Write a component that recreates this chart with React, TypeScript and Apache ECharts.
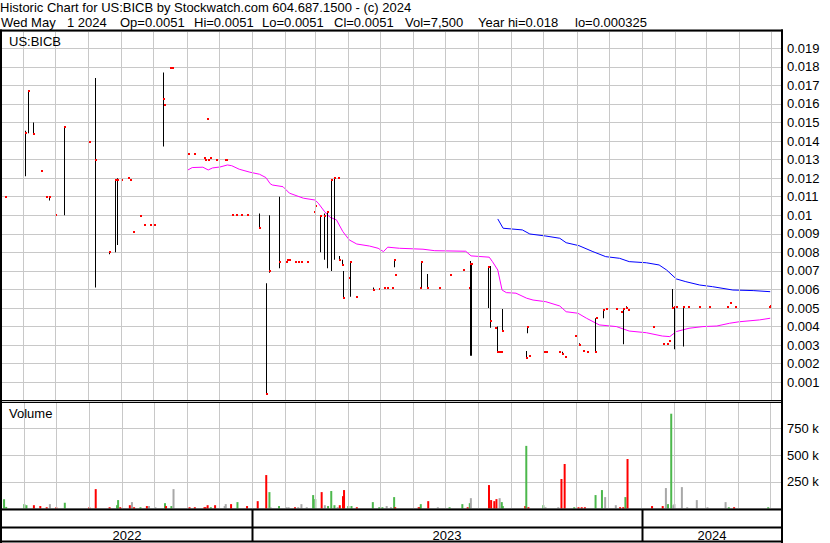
import React, { useEffect, useRef } from 'react';
import * as echarts from 'echarts';

const HEADER_LINE_1 = 'Historic Chart for US:BICB by Stockwatch.com 604.687.1500 - (c) 2024';
const HEADER_LINE_2 = ['Wed May', '1 2024', 'Op=0.0051', 'Hi=0.0051', 'Lo=0.0051', 'Cl=0.0051', 'Vol=7,500', 'Year hi=0.018', 'lo=0.000325'];
const SYMBOL = 'US:BICB';
const VOLUME_TITLE = 'Volume';
const YEARS = ['2022', '2023', '2024'];
const YEAR_STARTS = ['2023-01-01', '2024-01-01'];
const X_START = '2022-05-12';
const X_END = '2024-05-11';

// [date, high, low, close]
const priceBars: [string, number, number, number][] = [
  ['2022-05-16', 0.0110, 0.0110, 0.0110],
  ['2022-06-03', 0.01455, 0.0121, 0.01445],
  ['2022-06-06', 0.0167, 0.01442, 0.0167],
  ['2022-06-11', 0.0150, 0.01442, 0.0144],
  ['2022-06-18', 0.0124, 0.0124, 0.0124],
  ['2022-06-23', 0.0110, 0.0110, 0.0110],
  ['2022-06-26', 0.0110, 0.0108, 0.0110],
  ['2022-07-02', 0.01055, 0.0100, 0.0100],
  ['2022-07-10', 0.01475, 0.0100, 0.01475],
  ['2022-08-02', 0.01397, 0.01397, 0.01397],
  ['2022-08-08', 0.0174, 0.0061, 0.01298],
  ['2022-08-21', 0.00805, 0.0079, 0.0080],
  ['2022-08-27', 0.0119, 0.0080, 0.0119],
  ['2022-08-29', 0.0120, 0.0084, 0.0119],
  ['2022-09-01', 0.0119, 0.0119, 0.0119],
  ['2022-09-08', 0.0120, 0.0120, 0.0120],
  ['2022-09-10', 0.0119, 0.0119, 0.0119],
  ['2022-09-13', 0.0091, 0.0091, 0.0091],
  ['2022-09-19', 0.00995, 0.00995, 0.00995],
  ['2022-09-23', 0.0095, 0.0095, 0.0095],
  ['2022-09-28', 0.0095, 0.0095, 0.0095],
  ['2022-10-02', 0.0095, 0.0095, 0.0095],
  ['2022-10-11', 0.0177, 0.0137, 0.01627],
  ['2022-10-12', 0.01595, 0.01595, 0.01595],
  ['2022-10-17', 0.01796, 0.01796, 0.01796],
  ['2022-10-19', 0.01796, 0.01796, 0.01796],
  ['2022-11-03', 0.0133, 0.0133, 0.0133],
  ['2022-11-09', 0.0133, 0.0133, 0.0133],
  ['2022-11-18', 0.0131, 0.0131, 0.0131],
  ['2022-11-19', 0.0130, 0.0130, 0.0130],
  ['2022-11-21', 0.0152, 0.0152, 0.0152],
  ['2022-11-22', 0.0130, 0.0130, 0.0130],
  ['2022-11-24', 0.0131, 0.0131, 0.0131],
  ['2022-11-29', 0.0130, 0.0130, 0.0130],
  ['2022-12-08', 0.0130, 0.0130, 0.0130],
  ['2022-12-09', 0.0130, 0.0130, 0.0130],
  ['2022-12-14', 0.0100, 0.0100, 0.0100],
  ['2022-12-18', 0.0100, 0.0100, 0.0100],
  ['2022-12-23', 0.0100, 0.0100, 0.0100],
  ['2022-12-28', 0.0100, 0.0100, 0.0100],
  ['2023-01-08', 0.0101, 0.0093, 0.0093],
  ['2023-01-15', 0.00633, 0.000325, 0.00038],
  ['2023-01-18', 0.0100, 0.0069, 0.0070],
  ['2023-01-27', 0.0110, 0.00714, 0.0075],
  ['2023-02-03', 0.0075, 0.0075, 0.0075],
  ['2023-02-04', 0.0076, 0.0076, 0.0076],
  ['2023-02-06', 0.0076, 0.0076, 0.0076],
  ['2023-02-11', 0.0075, 0.0075, 0.0075],
  ['2023-02-14', 0.0075, 0.0075, 0.0075],
  ['2023-02-17', 0.0075, 0.0075, 0.0075],
  ['2023-02-22', 0.0075, 0.0075, 0.0075],
  ['2023-03-01', 0.0102, 0.0102, 0.0102],
  ['2023-03-02', 0.01055, 0.0082, 0.0105],
  ['2023-03-07', 0.0100, 0.0080, 0.00995],
  ['2023-03-10', 0.0101, 0.0076, 0.00995],
  ['2023-03-13', 0.01014, 0.00714, 0.0102],
  ['2023-03-17', 0.01194, 0.0070, 0.0119],
  ['2023-03-20', 0.0120, 0.0076, 0.0120],
  ['2023-03-23', 0.0120, 0.0120, 0.0120],
  ['2023-03-24', 0.0078, 0.0076, 0.0076],
  ['2023-03-27', 0.0076, 0.00732, 0.00732],
  ['2023-03-28', 0.0070, 0.00556, 0.00556],
  ['2023-04-02', 0.0075, 0.0066, 0.0066],
  ['2023-04-04', 0.0075, 0.00561, 0.0075],
  ['2023-04-09', 0.00561, 0.00561, 0.00561],
  ['2023-04-25', 0.0061, 0.00597, 0.00597],
  ['2023-05-01', 0.00604, 0.00604, 0.00604],
  ['2023-05-05', 0.0061, 0.0061, 0.0061],
  ['2023-05-08', 0.0061, 0.0061, 0.0061],
  ['2023-05-13', 0.0061, 0.0061, 0.0061],
  ['2023-05-15', 0.00764, 0.0072, 0.0076],
  ['2023-05-16', 0.00678, 0.00678, 0.00678],
  ['2023-06-08', 0.0061, 0.0061, 0.0061],
  ['2023-06-09', 0.00754, 0.0061, 0.0075],
  ['2023-06-15', 0.00684, 0.0061, 0.0061],
  ['2023-06-26', 0.0061, 0.0061, 0.0061],
  ['2023-07-06', 0.00678, 0.00678, 0.00678],
  ['2023-07-18', 0.00705, 0.00705, 0.00705],
  ['2023-07-24', 0.0061, 0.0061, 0.0061],
  ['2023-07-25', 0.00754, 0.00243, 0.00737],
  ['2023-07-26', 0.0074, 0.00243, 0.00737],
  ['2023-08-11', 0.00727, 0.0050, 0.00723],
  ['2023-08-13', 0.00727, 0.00394, 0.0043],
  ['2023-08-17', 0.00394, 0.00394, 0.00394],
  ['2023-08-19', 0.0040, 0.00265, 0.00265],
  ['2023-08-21', 0.00265, 0.00265, 0.00265],
  ['2023-08-23', 0.00265, 0.00265, 0.00265],
  ['2023-08-24', 0.00495, 0.00376, 0.00376],
  ['2023-09-15', 0.00268, 0.00232, 0.00232],
  ['2023-09-16', 0.0040, 0.00364, 0.0040],
  ['2023-09-18', 0.00243, 0.00243, 0.00243],
  ['2023-10-02', 0.00265, 0.00265, 0.00265],
  ['2023-10-04', 0.00265, 0.00265, 0.00265],
  ['2023-10-16', 0.00265, 0.00265, 0.00265],
  ['2023-10-19', 0.00265, 0.0025, 0.00252],
  ['2023-10-22', 0.00238, 0.00238, 0.00238],
  ['2023-10-31', 0.00351, 0.00351, 0.00351],
  ['2023-11-04', 0.0031, 0.00301, 0.00301],
  ['2023-11-08', 0.0027, 0.0027, 0.0027],
  ['2023-11-11', 0.00265, 0.00265, 0.00265],
  ['2023-11-19', 0.00445, 0.00265, 0.00265],
  ['2023-11-20', 0.00445, 0.00445, 0.00445],
  ['2023-11-26', 0.0049, 0.00445, 0.0049],
  ['2023-11-29', 0.00493, 0.00493, 0.00493],
  ['2023-12-09', 0.00493, 0.00493, 0.00493],
  ['2023-12-13', 0.0048, 0.0048, 0.0048],
  ['2023-12-15', 0.00499, 0.00305, 0.00493],
  ['2023-12-18', 0.0051, 0.00499, 0.00499],
  ['2023-12-20', 0.0049, 0.0049, 0.0049],
  ['2024-01-12', 0.0040, 0.0040, 0.0040],
  ['2024-01-22', 0.00305, 0.00305, 0.00305],
  ['2024-01-25', 0.00305, 0.00305, 0.00305],
  ['2024-01-27', 0.00324, 0.00324, 0.00324],
  ['2024-01-30', 0.00603, 0.00499, 0.0050],
  ['2024-02-01', 0.00504, 0.00278, 0.00504],
  ['2024-02-02', 0.00504, 0.00278, 0.00504],
  ['2024-02-03', 0.00504, 0.00504, 0.00504],
  ['2024-02-09', 0.00504, 0.00292, 0.00504],
  ['2024-02-14', 0.00504, 0.00504, 0.00504],
  ['2024-02-24', 0.00504, 0.00504, 0.00504],
  ['2024-03-05', 0.00504, 0.00504, 0.00504],
  ['2024-03-21', 0.00504, 0.00504, 0.00504],
  ['2024-03-24', 0.00529, 0.00529, 0.00529],
  ['2024-03-29', 0.00504, 0.00504, 0.00504],
  ['2024-04-30', 0.00504, 0.00504, 0.00504],
  ['2024-05-01', 0.0051, 0.0051, 0.0051],
];

// short moving average (magenta)
const maShort: [string, number][] = [
  ['2022-11-02', 0.01244], ['2022-11-06', 0.01257], ['2022-11-16', 0.01259], ['2022-11-21', 0.01244],
  ['2022-11-25', 0.01255], ['2022-12-02', 0.0126], ['2022-12-09', 0.01271], ['2022-12-13', 0.01267],
  ['2022-12-20', 0.01248], ['2022-12-30', 0.01232], ['2023-01-08', 0.01221], ['2023-01-14', 0.01203],
  ['2023-01-18', 0.0117], ['2023-01-20', 0.01163], ['2023-01-30', 0.01154], ['2023-02-05', 0.01119],
  ['2023-02-18', 0.01092], ['2023-03-01', 0.01082], ['2023-03-04', 0.01065], ['2023-03-10', 0.01019],
  ['2023-03-15', 0.00989], ['2023-03-21', 0.00975], ['2023-03-27', 0.00912], ['2023-04-02', 0.00867],
  ['2023-04-09', 0.00845], ['2023-04-21', 0.00834], ['2023-04-29', 0.00822], ['2023-05-04', 0.00804],
  ['2023-05-08', 0.00828], ['2023-05-19', 0.00822], ['2023-06-10', 0.00817], ['2023-06-21', 0.00809],
  ['2023-07-20', 0.00806], ['2023-07-25', 0.00781], ['2023-08-11', 0.00774], ['2023-08-14', 0.0075],
  ['2023-08-19', 0.00705], ['2023-08-23', 0.00597], ['2023-08-27', 0.00583], ['2023-09-05', 0.0058],
  ['2023-09-15', 0.00553], ['2023-09-21', 0.00543], ['2023-10-03', 0.00534], ['2023-10-16', 0.00511],
  ['2023-10-22', 0.0048], ['2023-11-02', 0.00472], ['2023-11-10', 0.00445], ['2023-11-22', 0.00409],
  ['2023-12-08', 0.004], ['2023-12-20', 0.00376], ['2024-01-05', 0.00367], ['2024-01-20', 0.00349],
  ['2024-01-27', 0.00346], ['2024-02-02', 0.00373], ['2024-02-14', 0.00391], ['2024-02-27', 0.004],
  ['2024-03-11', 0.00403], ['2024-03-23', 0.00418], ['2024-04-01', 0.00426], ['2024-04-20', 0.00436],
  ['2024-04-30', 0.00445],
];

// long moving average (blue)
const maLong: [string, number][] = [
  ['2023-08-19', 0.0098], ['2023-08-24', 0.0093], ['2023-09-11', 0.00921], ['2023-09-18', 0.00899],
  ['2023-10-03', 0.00888], ['2023-10-16', 0.00876], ['2023-10-22', 0.00852], ['2023-11-03', 0.00836],
  ['2023-11-16', 0.00804], ['2023-11-28', 0.00777], ['2023-12-11', 0.00768], ['2023-12-20', 0.0075],
  ['2024-01-05', 0.00744], ['2024-01-17', 0.00732], ['2024-01-24', 0.00705], ['2024-02-02', 0.00657],
  ['2024-02-11', 0.00642], ['2024-02-24', 0.00624], ['2024-03-07', 0.00615], ['2024-03-26', 0.00597],
  ['2024-04-14', 0.00594], ['2024-04-30', 0.00588],
];

// [date, volume, direction u=up d=down f=flat]
const volumes: [string, number, string][] = [
  ['2022-05-13', 88000, 'u'], ['2022-05-15', 15000, 'u'], ['2022-06-01', 41000, 'u'], ['2022-06-03', 31000, 'u'],
  ['2022-06-10', 31000, 'd'], ['2022-06-16', 23000, 'd'], ['2022-06-22', 12000, 'd'], ['2022-06-25', 41000, 'f'],
  ['2022-07-01', 12000, 'd'], ['2022-07-09', 53000, 'u'], ['2022-08-01', 12000, 'd'], ['2022-08-07', 182000, 'd'],
  ['2022-08-20', 12000, 'd'], ['2022-08-27', 31000, 'u'], ['2022-08-28', 79000, 'u'], ['2022-08-30', 12000, 'd'],
  ['2022-09-08', 31000, 'd'], ['2022-09-10', 60000, 'f'], ['2022-09-12', 12000, 'd'], ['2022-09-18', 12000, 'u'],
  ['2022-09-24', 23000, 'd'], ['2022-09-26', 23000, 'f'], ['2022-10-02', 12000, 'f'], ['2022-10-11', 50000, 'u'],
  ['2022-10-12', 23000, 'd'], ['2022-10-17', 23000, 'u'], ['2022-10-19', 182000, 'f'], ['2022-11-03', 12000, 'd'],
  ['2022-11-08', 12000, 'd'], ['2022-11-17', 12000, 'd'], ['2022-11-18', 12000, 'd'], ['2022-11-20', 31000, 'd'],
  ['2022-11-23', 12000, 'u'], ['2022-11-27', 31000, 'd'], ['2022-12-06', 23000, 'f'], ['2022-12-07', 41000, 'f'],
  ['2022-12-12', 41000, 'd'], ['2022-12-18', 60000, 'u'], ['2022-12-27', 23000, 'd'], ['2023-01-06', 69000, 'd'],
  ['2023-01-14', 314000, 'd'], ['2023-01-17', 154000, 'u'], ['2023-01-18', 12000, 'f'], ['2023-01-26', 23000, 'u'],
  ['2023-02-02', 12000, 'f'], ['2023-02-04', 12000, 'f'], ['2023-02-10', 12000, 'd'], ['2023-02-13', 12000, 'f'],
  ['2023-02-16', 41000, 'f'], ['2023-02-21', 12000, 'f'], ['2023-02-27', 126000, 'u'], ['2023-03-01', 88000, 'u'],
  ['2023-03-07', 154000, 'd'], ['2023-03-10', 31000, 'f'], ['2023-03-13', 23000, 'u'], ['2023-03-16', 164000, 'u'],
  ['2023-03-19', 31000, 'u'], ['2023-03-22', 12000, 'f'], ['2023-03-24', 31000, 'd'], ['2023-03-27', 116000, 'd'],
  ['2023-03-28', 173000, 'd'], ['2023-04-01', 23000, 'u'], ['2023-04-04', 23000, 'u'], ['2023-04-09', 12000, 'd'],
  ['2023-04-24', 60000, 'u'], ['2023-04-30', 12000, 'u'], ['2023-05-03', 12000, 'u'], ['2023-05-07', 23000, 'f'],
  ['2023-05-11', 12000, 'f'], ['2023-05-14', 107000, 'u'], ['2023-05-15', 12000, 'd'], ['2023-06-06', 12000, 'd'],
  ['2023-06-07', 12000, 'd'], ['2023-06-08', 41000, 'u'], ['2023-06-15', 69000, 'd'], ['2023-06-24', 12000, 'f'],
  ['2023-07-05', 12000, 'u'], ['2023-07-17', 41000, 'u'], ['2023-07-22', 12000, 'd'], ['2023-07-24', 50000, 'u'],
  ['2023-07-25', 97000, 'f'], ['2023-08-11', 220000, 'd'], ['2023-08-13', 79000, 'd'], ['2023-08-16', 69000, 'd'],
  ['2023-08-18', 88000, 'd'], ['2023-08-21', 97000, 'f'], ['2023-08-23', 60000, 'u'], ['2023-08-24', 23000, 'u'],
  ['2023-09-14', 23000, 'd'], ['2023-09-15', 588000, 'u'], ['2023-09-17', 12000, 'd'], ['2023-10-01', 31000, 'u'],
  ['2023-10-03', 12000, 'f'], ['2023-10-15', 12000, 'f'], ['2023-10-18', 277000, 'd'], ['2023-10-21', 418000, 'd'],
  ['2023-10-30', 12000, 'u'], ['2023-11-03', 12000, 'd'], ['2023-11-06', 12000, 'd'], ['2023-11-09', 12000, 'd'],
  ['2023-11-19', 126000, 'u'], ['2023-11-25', 173000, 'u'], ['2023-11-28', 107000, 'f'], ['2023-12-08', 31000, 'f'],
  ['2023-12-12', 12000, 'd'], ['2023-12-15', 12000, 'd'], ['2023-12-17', 107000, 'u'], ['2023-12-19', 465000, 'd'],
  ['2024-01-11', 23000, 'd'], ['2024-01-21', 23000, 'd'], ['2024-01-24', 192000, 'f'], ['2024-01-26', 41000, 'u'],
  ['2024-01-29', 890000, 'u'], ['2024-01-31', 31000, 'f'], ['2024-02-01', 41000, 'f'], ['2024-02-08', 201000, 'f'],
  ['2024-02-13', 12000, 'f'], ['2024-02-22', 79000, 'f'], ['2024-03-03', 12000, 'f'], ['2024-03-20', 60000, 'f'],
  ['2024-03-23', 12000, 'u'], ['2024-03-28', 12000, 'd'], ['2024-04-29', 12000, 'u'],
];

const toTs = (s: string) => {
  const [y, m, d] = s.split('-').map(Number);
  return new Date(y, m - 1, d).getTime();
};

export default function App() {
  const ref = useRef<HTMLDivElement>(null);

  useEffect(() => {
    const el = ref.current;
    if (!el) return;
    const chart = echarts.init(el, null, { renderer: 'svg' });
    const FONT = 'Arial, "Liberation Sans", sans-serif';
    const GRID_COLOR = '#c8c8c8';
    const dirColor: Record<string, string> = { u: '#4cb84c', d: '#ff0000', f: '#a8a8a8' };

    const monthStarts: number[] = [];
    for (let y = 2022; y <= 2024; y++) {
      for (let m = 1; m <= 12; m++) {
        const s = `${y}-${String(m).padStart(2, '0')}-01`;
        if (s > X_START && s < X_END) monthStarts.push(toTs(s));
      }
    }
    const monthMarkLine = {
      silent: true,
      symbol: ['none', 'none'],
      label: { show: false },
      emphasis: { disabled: true },
      lineStyle: { color: GRID_COLOR, width: 1, type: 'solid' },
      data: monthStarts.map((t) => ({ xAxis: t })),
    };

    const xAxisBase = {
      type: 'time',
      min: toTs(X_START),
      max: toTs(X_END),
      axisLabel: { show: false },
      axisLine: { show: false },
      axisTick: { show: false },
      splitLine: { show: false },
    };

    chart.setOption({
      animation: false,
      backgroundColor: '#ffffff',
      grid: [
        { left: 2, right: 48, top: 31, height: 369.8 },
        { left: 2, right: 48, top: 402, height: 106.5 },
      ],
      xAxis: [
        { ...xAxisBase, gridIndex: 0 },
        { ...xAxisBase, gridIndex: 1 },
      ],
      yAxis: [
        {
          gridIndex: 0,
          type: 'value',
          position: 'right',
          min: 0,
          max: 0.01993,
          interval: 0.001,
          axisLine: { show: false },
          axisTick: { show: false },
          axisLabel: {
            margin: 5,
            color: '#000',
            fontSize: 13,
            fontFamily: FONT,
            formatter: (v: number) => (v <= 0 || v > 0.0195 ? '' : String(+v.toFixed(3))),
          },
          splitLine: { lineStyle: { color: GRID_COLOR, width: 1 } },
        },
        {
          gridIndex: 1,
          type: 'value',
          position: 'right',
          min: 0,
          max: 1000000,
          interval: 250000,
          axisLine: { show: false },
          axisTick: { show: false },
          axisLabel: {
            margin: 5,
            color: '#000',
            fontSize: 13,
            fontFamily: FONT,
            formatter: (v: number) => (v <= 0 || v >= 1000000 ? '' : `${v / 1000} k`),
          },
          splitLine: { lineStyle: { color: GRID_COLOR, width: 1 } },
        },
      ],
      series: [
        { type: 'line', xAxisIndex: 0, yAxisIndex: 0, data: [], z: 1, markLine: monthMarkLine },
        { type: 'line', xAxisIndex: 1, yAxisIndex: 1, data: [], z: 1, markLine: monthMarkLine },
        {
          type: 'line', xAxisIndex: 0, yAxisIndex: 0, data: maShort, symbol: 'none', z: 3,
          lineStyle: { color: '#ff00ff', width: 1 }, itemStyle: { color: '#ff00ff' },
        },
        {
          type: 'line', xAxisIndex: 0, yAxisIndex: 0, data: maLong, symbol: 'none', z: 3,
          lineStyle: { color: '#0000ff', width: 1 }, itemStyle: { color: '#0000ff' },
        },
        {
          type: 'custom', xAxisIndex: 0, yAxisIndex: 0, z: 4,
          data: priceBars,
          encode: { x: 0, y: [1, 2, 3] },
          renderItem: (params: any, api: any) => {
            const t = api.value(0);
            const hi = api.coord([t, api.value(1)]);
            const lo = api.coord([t, api.value(2)]);
            const cl = api.coord([t, api.value(3)]);
            const x = Math.round(hi[0]);
            const children: any[] = [];
            if (lo[1] - hi[1] >= 1) {
              children.push({
                type: 'rect',
                shape: { x: x - 1, y: hi[1], width: 1, height: lo[1] - hi[1] },
                style: { fill: '#000000' },
              });
            }
            children.push({
              type: 'rect',
              shape: { x: x - 1, y: Math.round(cl[1]) - 1, width: 2, height: 2 },
              style: { fill: '#ff0000' },
            });
            return { type: 'group', children };
          },
        },
        {
          type: 'bar', xAxisIndex: 1, yAxisIndex: 1, barWidth: 2, z: 3,
          data: volumes.map(([d, v, dir]) => ({ value: [d, v], itemStyle: { color: dirColor[dir] } })),
        },
      ],
    });

    const px = (s: string) => (chart.convertToPixel({ gridIndex: 0 }, [toTs(s), 0]) as number[])[0];
    const bounds = [2, ...YEAR_STARTS.map(px), 782];
    const black = '#000000';
    const hLine = (y: number, w: number, x2 = 783) => ({
      type: 'line', shape: { x1: 0, y1: y, x2, y2: y }, style: { stroke: black, lineWidth: w }, z: 100,
    });
    const vLine = (x: number, y1: number, y2: number, w: number) => ({
      type: 'line', shape: { x1: x, y1, x2: x, y2 }, style: { stroke: black, lineWidth: w }, z: 100,
    });
    const headerX = [1, 67, 120, 194, 262, 334, 405, 478, 575];
    const text = (t: string, x: number, y: number, align = 'left') => ({
      type: 'text', x, y, z: 101,
      style: { text: t, fill: black, font: `13px ${FONT}`, align, verticalAlign: 'middle' },
    });

    const graphics: any[] = [
      hLine(30.5, 2),
      hLine(400.5, 1, 782),
      hLine(402.5, 1, 782),
      hLine(509.5, 2),
      hLine(527.5, 2),
      hLine(541.5, 2),
      vLine(1, 29.5, 543, 2),
      vLine(782, 29.5, 543, 2),
      ...YEAR_STARTS.map((s) => vLine(Math.round(px(s)) + 0.5, 509, 542, 2)),
      text(HEADER_LINE_1, 0, 7.8),
      ...HEADER_LINE_2.map((t, i) => text(t, headerX[i], 22.8)),
      text(SYMBOL, 9, 41),
      text(VOLUME_TITLE, 9, 413.5),
      ...YEARS.map((y, i) => text(y, (bounds[i] + bounds[i + 1]) / 2, 535.5, 'center')),
    ];
    chart.setOption({ graphic: graphics });

    return () => chart.dispose();
  }, []);

  return (
    <div
      ref={ref}
      style={{ position: 'fixed', left: 0, top: 0, width: 830, height: 543, background: '#ffffff' }}
    />
  );
}
